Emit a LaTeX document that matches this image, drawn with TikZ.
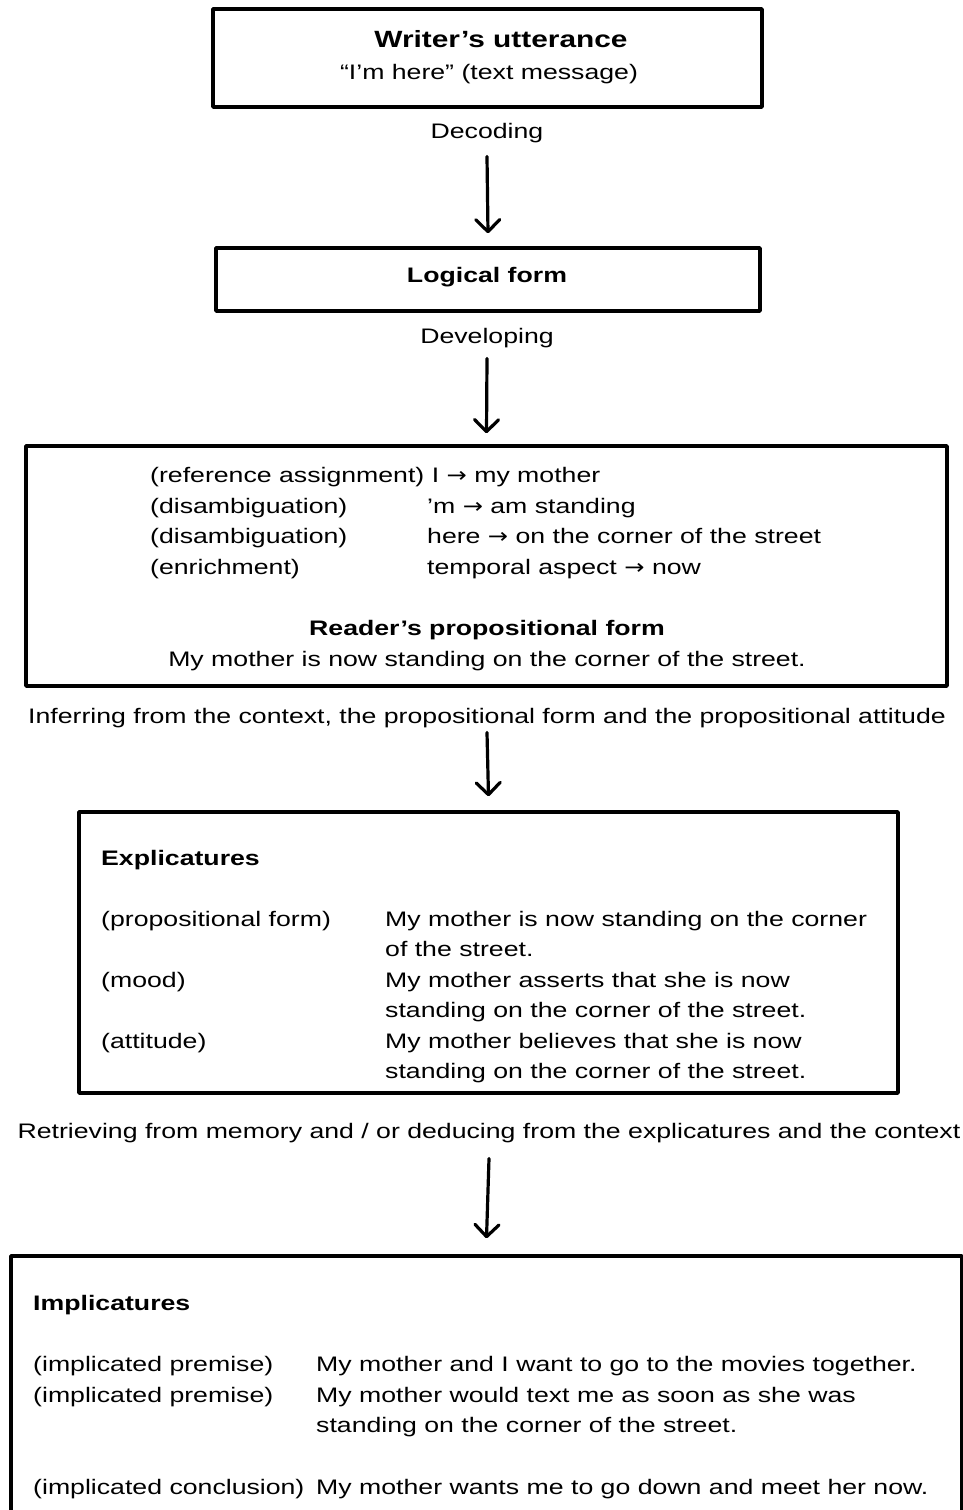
\documentclass[tikz,border=0pt]{standalone}
\usepackage{fontspec}
\setmainfont{Liberation Sans}[FakeStretch=1.27]
\newfontfamily\arrowfont{DejaVu Sans}[FakeStretch=1.15]
\usetikzlibrary{arrows.meta}

\newcommand\toarrow{{\arrowfont →}}

\tikzset{
  box/.style={draw, line width=3.5pt, inner sep=0pt},
  txt/.style={inner sep=0pt, anchor=base west},
  mid/.style={inner sep=0pt, anchor=base},
  flow/.style={line width=3.2pt, -{Straight Barb[length=12pt,width=24pt,round]}}
}

\begin{document}
\begin{tikzpicture}[x=1pt, y=-1pt, font=\fontsize{21}{25}\selectfont, line join=round, line cap=round]
\useasboundingbox (0,0) rectangle (963,1510);
\clip (0,0) rectangle (963,1510);

% boxes
\node[box, minimum width=549, minimum height=98] (utter) at (487.5,58) {};
\node[box, minimum width=544, minimum height=63] (logic) at (488,279.5) {};
\node[box, minimum width=921, minimum height=240] (prop) at (486.5,566) {};
\node[box, minimum width=819, minimum height=281] (expl) at (488.5,952.5) {};
\node[box, minimum width=951, minimum height=290] (impl) at (486.5,1401) {};

% box 1 and 2
\node[mid] (uttertitle) at (501,47) {\fontsize{23.5}{27}\selectfont\bfseries Writer’s utterance};
\node[mid] (uttertext) at (489,79) {“I’m here” (text message)};
\node[mid] (logictitle) at (487,282) {\bfseries Logical form};

% labels between the boxes
\node[mid] (decode) at (487,138) {Decoding};
\node[mid] (develop) at (487,343) {Developing};
\node[mid] (infer) at (487,723) {Inferring from the context, the propositional form and the propositional attitude};
\node[mid] (retrieve) at (489,1138) {Retrieving from memory and / or deducing from the explicatures and the context};

% box 3
\node[txt] (ra) at (150,482) {(reference assignment)};
\node[txt] (rb) at (150,513) {(disambiguation)};
\node[txt] (rc) at (150,543) {(disambiguation)};
\node[txt] (rd) at (150,574) {(enrichment)};
\node[txt] (sa) at ([xshift=7pt]ra.base east) {I \toarrow{} my mother};
\node[txt] (sb) at (427,513) {’m \toarrow{} am standing};
\node[txt] (sc) at (427,543) {here \toarrow{} on the corner of the street};
\node[txt] (sd) at (427,574) {temporal aspect \toarrow{} now};
\node[mid] (proptitle) at (487,635) {\bfseries Reader’s propositional form};
\node[mid] (proptext) at (487,666) {My mother is now standing on the corner of the street.};

% box 4
\node[txt] (expltitle) at (101,865) {\bfseries Explicatures};
\node[txt] (ea) at (101,926) {(propositional form)};
\node[txt] (eb) at (101,987) {(mood)};
\node[txt] (ec) at (101,1048) {(attitude)};
\node[txt] (fa) at (385,926) {My mother is now standing on the corner};
\node[txt] (fa2) at (385,956) {of the street.};
\node[txt] (fb) at (385,987) {My mother asserts that she is now};
\node[txt] (fb2) at (385,1017) {standing on the corner of the street.};
\node[txt] (fc) at (385,1048) {My mother believes that she is now};
\node[txt] (fc2) at (385,1078) {standing on the corner of the street.};

% box 5
\node[txt] (impltitle) at (33,1310) {\bfseries Implicatures};
\node[txt] (ia) at (33,1371) {(implicated premise)};
\node[txt] (ib) at (33,1402) {(implicated premise)};
\node[txt] (ic) at (33,1494) {(implicated conclusion)};
\node[txt] (ja) at (316,1371) {My mother and I want to go to the movies together.};
\node[txt] (jb) at (316,1402) {My mother would text me as soon as she was};
\node[txt] (jb2) at (316,1432) {standing on the corner of the street.};
\node[txt] (jc) at (316,1494) {My mother wants me to go down and meet her now.};

% arrows
\draw[flow] ([yshift=-14pt]decode.south) -- ([yshift=13pt]logic.north);
\draw[flow] ([yshift=-11pt]develop.south) -- ([yshift=11pt]prop.north);
\draw[flow] ([yshift=-5pt]infer.south) -- ([yshift=14pt]expl.north);
\draw[flow] ([yshift=-16pt]retrieve.south) -- ([yshift=16pt]impl.north);
\end{tikzpicture}
\end{document}
